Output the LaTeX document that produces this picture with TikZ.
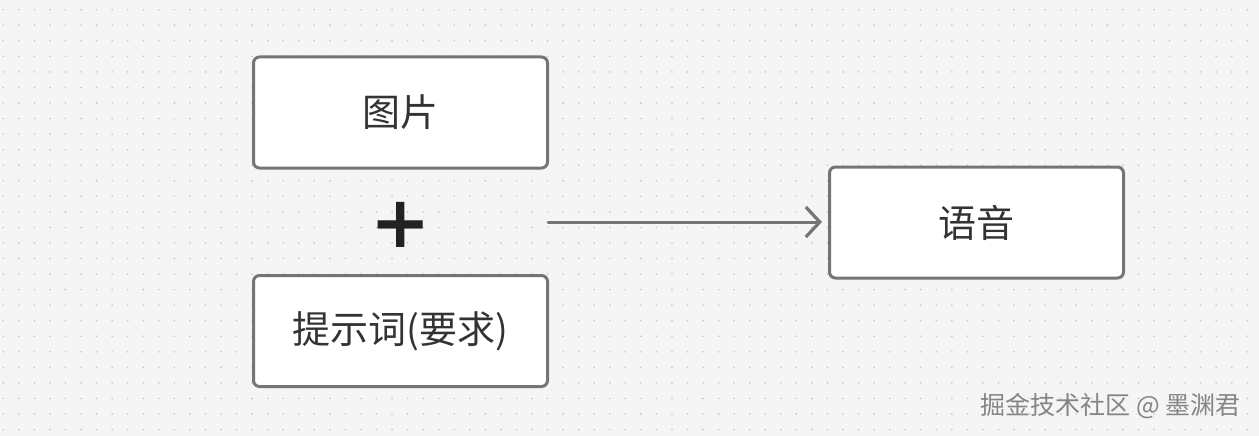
\documentclass[tikz,border=0pt]{standalone}
\usepackage{fontspec}
\setmainfont{Noto Sans CJK SC}
\newfontfamily\plusfont{DejaVu Sans}
\usetikzlibrary{arrows.meta}
\definecolor{bg}{HTML}{F5F5F5}
\definecolor{dotgray}{HTML}{C4C4C4}
\definecolor{boxgray}{HTML}{757575}
\definecolor{txt}{HTML}{333333}
\definecolor{plusblack}{HTML}{222222}
\definecolor{wmgray}{HTML}{858585}
\def\gap{15.55}
\begin{document}
\begin{tikzpicture}[x=1pt, y=-1pt,
  box/.style={draw=boxgray, line width=3pt, fill=white, rounded corners=6pt,
    minimum width=294pt, minimum height=111pt, text=txt,
    font=\fontsize{38}{40}\selectfont},
  flow/.style={draw=boxgray, line width=3pt, line cap=round,
    -{Straight Barb[length=14pt,width=30pt,line width=3.2pt]}}]
\fill[bg] (0,0) rectangle (1259,436);
\useasboundingbox (0,0) rectangle (1259,436);
% dot grid
\foreach \i in {0,...,80} \foreach \j in {0,...,27}
  \fill[dotgray] (3.3+\i*\gap, 9.7+\j*\gap) circle (0.9);
\node[box] (img) at (400.5,112.5) {图片};
\node[box] (prompt) at (400.5,331) {提示词(要求)};
\node[box] (voice) at (976.5,222.5) {语音};
\node[text=plusblack, font=\plusfont\bfseries\fontsize{72}{72}\selectfont] (plus) at (401,225) {+};
\coordinate (inR) at (548,222);
\draw[flow, shorten >=6pt] (inR) -- (inR -| voice.west);
\node[text=wmgray, font=\fontsize{25}{25}\selectfont] (mark) at (1110.5,406.5) {掘金技术社区 @ 墨渊君};
\end{tikzpicture}
\end{document}
